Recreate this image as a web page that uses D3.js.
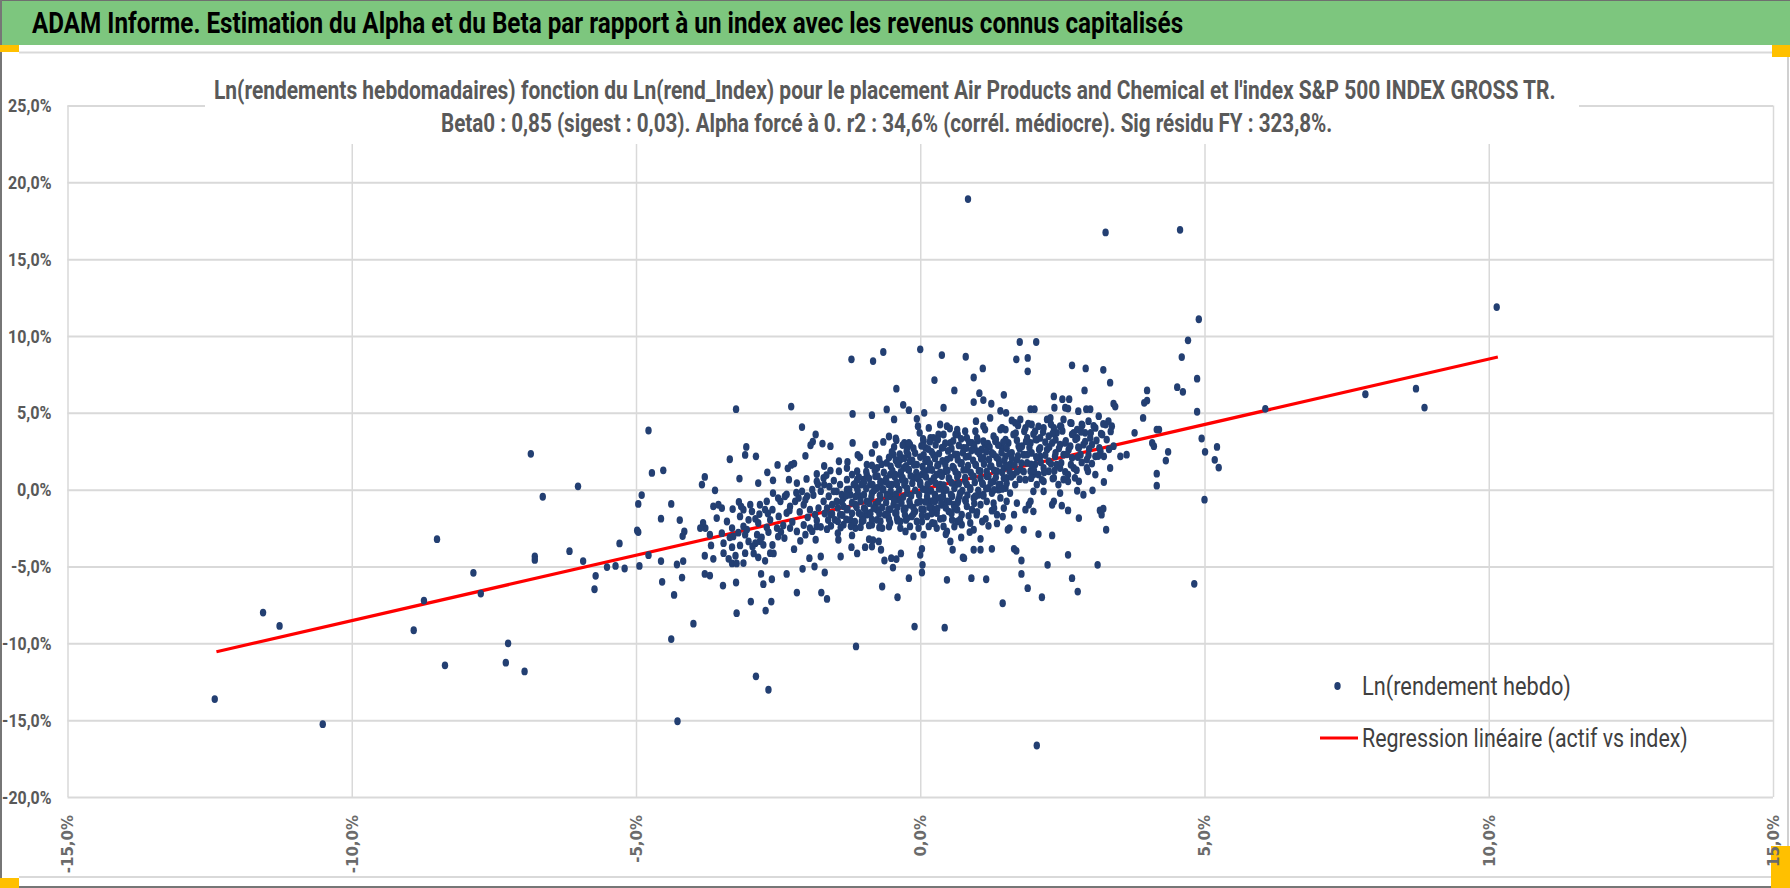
<!DOCTYPE html>
<html>
<head>
<meta charset="utf-8">
<script src="https://cdn.jsdelivr.net/npm/d3@7"></script>
<style>
  body { margin: 0; background: #fff; }
</style>
</head>
<body>
<div id="chart"></div>
<script>
// dimensions de la page
const WIDTH = 1790;
const HEIGHT = 888;
const FONT = "Roboto, 'Open Sans', sans-serif";

const headerTitle = "ADAM Informe. Estimation du Alpha et du Beta par rapport à un index avec les revenus connus capitalisés";
const chartTitle1 = "Ln(rendements hebdomadaires) fonction du Ln(rend_Index) pour le placement Air Products and Chemical et l'index S&P 500 INDEX GROSS TR.";
const chartTitle2 = "Beta0 : 0,85 (sigest : 0,03). Alpha forcé à 0. r2 : 34,6% (corrél. médiocre). Sig résidu FY : 323,8%.";
const legendLabels = ["Ln(rendement hebdo)", "Regression linéaire (actif vs index)"];

const xTicks = [-15, -10, -5, 0, 5, 10, 15];
const yTicks = [-20, -15, -10, -5, 0, 5, 10, 15, 20, 25];

// droite de régression (index, actif) en %
const regIndex = [-12.38, 10.16];
const regAsset = [-10.55, 8.63];

// points hebdo [rend_Index %, rend actif %] : points isolés
const outerPoints = [
  [-12.41,-13.63],[-11.56,-8.0],[-11.27,-8.87],[-10.51,-15.26],[-8.91,-9.15],[-8.73,-7.22],[-8.50,-3.22],
  [-8.36,-11.43],[-7.86,-5.41],[-7.73,-6.76],[-7.25,-10.0],[-7.29,-11.26],[-6.96,-11.83],[-6.85,2.33],
  [-6.78,-4.35],[-6.78,-4.57],[-6.64,-0.46],[-6.17,-4.0],[-6.02,0.22],[-5.93,-4.65],[-5.71,-5.61],
  [-5.73,-6.48],[-5.51,-5.04],[-5.36,-4.96],[-5.29,-3.5],[-5.20,-5.13],[-4.98,-2.65],[-4.96,-2.76],
  [-4.96,-0.93],[-4.90,-0.35],[-4.94,-4.96],[-4.78,3.85],[-4.78,-4.26],[-4.72,1.09],[-4.52,1.26],
  [-4.56,-1.89],[-4.56,-4.65],[-4.54,-6.0],[-4.38,-0.93],[-4.38,-9.72],[-4.33,-6.85],[-4.27,-15.07],
  [-4.23,-1.98],[-4.18,-3.02],[-4.15,-2.72],[-4.28,-4.87],[-4.17,-4.65],[-4.19,-5.72],
  [0.84,18.91],[3.26,16.74],[4.57,16.91],[4.90,11.09],[10.14,11.88],[6.07,5.26],[7.83,6.21],
  [8.72,6.57],[8.87,5.34],[5.22,2.78],[5.18,1.94],[5.25,1.44],[-2.89,-12.15],[-2.67,-13.02],[2.05,-16.65]
];

// points du nuage central
const clusterPoints = [
  [-1.21,8.48],[-0.83,8.37],[-0.65,8.96],[0.0,9.13],[0.38,8.76],[0.80,8.65],[1.75,9.61],[2.04,9.61],
  [1.69,8.48],[1.89,8.57],[1.89,7.70],[1.10,7.89],[0.94,7.30],[0.25,7.13],[-0.42,6.57],[0.60,6.46],
  [2.67,8.09],[2.91,7.89],[3.22,7.80],[3.34,6.96],[2.89,6.46],[4.71,9.72],[4.60,8.63],[4.87,7.22],
  [4.52,6.67],[4.62,6.37],[3.99,6.46],[3.99,5.80],[3.94,5.65],[1.04,6.28],[1.11,5.83],[0.94,5.70],
  [1.25,5.59],[1.47,6.17],[-0.30,5.52],[-0.20,5.17],[-0.59,5.22],[-3.24,5.24],[-2.27,5.41],[2.35,6.07],
  [2.50,5.89],[2.62,5.89],[2.36,5.33],[2.55,5.33],[2.60,5.28],[2.78,5.11],[2.92,5.24],[2.99,5.24],
  [3.40,5.59],[3.43,5.41],[1.94,5.24],[2.01,5.24],[1.41,5.13],[1.51,5.0],[0.41,5.33],[0.07,5.0],
  [-1.19,4.93],[-0.85,4.85],[-0.46,4.57],[-2.08,4.07],[-1.84,3.59],[-1.89,3.13],[-1.93,2.89],[-1.72,3.0],
  [-1.58,2.83],[-1.19,3.04],[-3.06,2.78],[-3.08,2.26],[-2.89,2.17],[-3.35,1.98],[-2.02,2.20],[-2.51,1.61],
  [-2.69,1.13],[-2.33,1.39],[-2.27,1.61],[-2.22,1.70],[-1.82,1.02],[-1.69,1.54],[-1.58,1.24],[-1.43,1.85],
  [-1.28,1.80],[-1.10,2.26],[-1.06,2.11],[-0.85,2.39],[-0.79,2.93],[-0.65,3.11],[-0.55,3.46],[-0.43,3.33],
  [-0.28,3.04],[-0.18,2.93],[-0.06,4.61],[-0.04,4.13],[-0.01,3.70],[-3.18,0.72],[-2.85,0.43],[-2.59,0.61],
  [-2.31,0.65],[-2.17,0.43],[-3.79,0.83],[-3.84,0.33],[-3.61,-0.04],[-2.59,-0.22],[-1.90,0.0],[-1.69,0.33],
  [-1.52,0.59],[-1.41,0.33],[-1.29,0.65],[-1.11,1.20],[-0.94,1.63],[-0.76,1.41],[-0.59,1.74],[-0.47,2.28],
  [-0.35,1.96],[-0.21,2.28],[-0.29,1.41],[-1.00,0.65],[-0.79,0.87],[-0.62,0.54],[-0.44,0.98],[-1.29,1.41],
  [-1.43,1.20],
  [0.06,3.15],[0.18,3.37],[0.32,3.59],[0.47,4.13],[0.52,3.98],[0.66,3.59],[0.82,3.37],[0.98,4.46],
  [1.11,4.13],[1.14,3.91],[1.29,3.48],[1.44,4.02],[1.50,3.91],[1.61,4.50],[1.67,4.35],[1.76,4.57],
  [1.85,4.02],[1.96,4.24],[2.02,3.80],[1.79,2.83],[1.94,3.04],[2.11,3.37],[2.17,4.02],[2.23,4.57],
  [2.29,4.67],[2.35,4.02],[2.46,4.13],[2.52,4.57],[2.64,4.35],[2.76,3.91],[2.84,4.24],[2.96,4.46],
  [3.08,4.02],[3.14,4.78],[3.26,4.24],[3.31,4.46],[3.37,4.13],[3.20,3.59],[2.99,3.37],[2.87,2.93],
  [2.79,2.72],[2.64,2.83],[2.46,2.93],[2.32,3.04],[2.23,2.61],[2.11,2.17],[2.26,1.85],[2.40,1.63],
  [2.52,2.28],[2.67,2.07],[2.82,2.28],[2.93,1.96],[3.08,2.17],[3.17,2.50],[3.23,2.17],[3.40,2.83],
  [3.52,2.17],[3.63,2.28],[3.77,3.70],[4.08,3.04],[4.11,2.83],[4.16,3.91],[4.20,3.91],[4.36,2.46],
  [4.32,1.89],[4.16,1.04],[4.16,0.26],[3.92,4.67],[4.87,5.07],[4.95,3.33],[5.01,2.46],[5.00,-0.65],
  [4.82,-6.13],[3.34,1.41],[3.23,0.50],[3.08,0.98],[2.93,1.41],[2.79,0.54],[2.76,-0.07],[2.87,-0.33],
  [3.03,-0.04],[2.60,0.98],[2.60,0.54],[2.43,0.33],[2.46,-0.22],[2.35,-0.76],[2.32,-0.98],[2.49,-1.04],
  [2.60,-1.35],[2.79,-1.85],[3.16,-1.35],[3.19,-1.63],[3.22,-1.24],[3.27,-2.61],[2.17,-0.11],[2.17,0.54],
  [1.99,0.98],[2.05,0.33],[1.99,-0.11],[1.94,-0.76],[1.91,-0.98],[1.99,-1.41],[1.85,-1.30],[1.70,-0.87],
  [1.65,-1.63],[1.54,-2.61],[1.57,-2.50],[1.82,-2.61],[2.08,-2.89],[2.32,-2.98],[2.60,-4.24],[2.24,-4.89],
  [2.67,-5.76],[2.77,-6.63],[3.12,-4.89],[1.89,-6.41],[2.14,-7.0],[1.78,-5.48],[1.78,-4.61],[1.65,-3.85],
  [1.69,-3.98],[1.45,-7.39],[1.16,-5.83],[0.90,-5.76],[1.26,-3.85],[1.06,-3.91],[0.94,-3.91],[0.77,-4.46],
  [0.75,-4.41],[0.57,-3.91],[0.72,-3.11],[0.87,-2.76],[1.06,-3.20],[1.09,-2.07],[0.99,-1.63],[1.26,-1.37],
  [1.35,-1.63],[1.47,-1.20],[0.47,-5.87],[0.43,-8.98],[-0.10,-8.91],[0.03,-5.39],[0.04,-4.89],[0.0,-4.24],
  [0.03,-3.85],[-0.20,-5.76],[-0.40,-7.0],[-0.67,-6.30],[-0.48,-5.07],[-0.63,-4.61],[-0.51,-4.46],[-0.42,-4.52],
  [-0.34,-4.15],[-1.13,-10.2],[-1.40,-4.35],[-1.21,-3.74],[-1.11,-4.15],[-0.97,-3.74],[-0.85,-3.70],[-0.83,-3.28],
  [-0.69,-3.91],[-0.73,-3.37],[-0.90,-3.22],[-1.20,-2.98],[-1.44,-3.26],[-1.45,-2.83],[-1.64,-2.57],[-1.84,-3.26],
  [-1.95,-4.46],[-1.86,-5.0],[-1.75,-4.35],[-1.68,-5.39],[-1.74,-6.70],[-1.64,-7.11],[-2.07,-5.15],[-2.17,-6.70],
  [-2.35,-5.48],[-2.22,-3.87],[-2.11,-3.33],[-2.39,-3.15],[-2.61,-5.83],[-2.76,-6.15],[-2.80,-5.48],[-2.98,-7.28],
  [-2.62,-7.28],[-2.72,-7.87],[-3.23,-8.04],[-3.24,-6.04],[-3.47,-6.24],[-3.70,-5.59],[-3.79,-5.48],[-3.79,-4.30],
  [-3.64,-4.50],[-3.99,-8.72],[-3.68,-3.63],[-3.46,-4.13],[-3.37,-4.50],[-3.31,-4.80],[-3.23,-4.80],[-3.11,-4.78],
  [-3.08,-4.13],[-2.93,-4.15],[-2.90,-3.48],[-2.76,-3.59],[-2.73,-4.63],[-2.64,-4.13],[-2.58,-4.15],[-3.46,-3.48],
  [-3.31,-3.74],[-3.17,-3.63],[-3.08,-2.93],[-3.02,-3.37],[-2.87,-2.93],[-2.79,-3.11],[-2.67,-2.76],[-2.52,-2.50],
  [-2.41,-2.33],[-2.29,-2.50],[-2.17,-2.72],[-2.02,-2.93],[-1.94,-2.50],[-1.82,-2.39],[-3.78,-2.50],[-3.82,-2.17],
  [-3.87,-2.50],[-3.55,-0.98],[-3.64,-1.09],[-3.49,-1.20],[-3.30,-1.26],[-3.19,-0.80],[-3.40,-2.07],[-3.31,-2.50],
  [-3.11,-2.39],[-2.99,-0.98],[-2.96,-1.41],[-2.83,-1.59],[-2.64,-1.96],[-2.49,-1.74],[-2.35,-1.52],[-2.29,-1.09],
  [-2.20,-0.76],[-2.14,-0.54],[-2.05,-0.98],[-1.94,-1.30],[-1.85,-1.63],[-1.79,-1.20],[-1.70,-0.76],[-1.64,-1.20],
  [-1.58,-1.63],[-1.50,-1.96],[-1.41,-1.63],[-1.35,-2.28],[-1.29,-1.30],[-1.23,-1.96],[-1.14,-2.50],[-1.03,-2.07],
  [-0.94,-1.63],[-0.85,-2.28],[-0.76,-1.96],[-0.67,-2.50],[-0.62,-1.63],[-0.53,-2.17],[-0.41,-1.85],[-0.35,-2.50],
  [-0.26,-2.72],[-0.18,-2.39],[-0.12,-3.04],[-0.03,-2.50],[0.06,-2.93],[0.15,-2.39],[0.21,-2.17],[0.29,-2.50],
  [0.41,-2.39],[0.47,-2.72],[0.53,-3.37],[0.65,-2.07],[0.73,-2.28],[0.88,-2.17],[0.94,-2.61],
  [-1.47,-0.11],[-1.35,-0.54],[-1.23,-0.33],[-1.11,0.11],[-1.06,-0.43],[-0.94,-0.76],[-0.85,-0.22],[-0.79,-0.98],
  [-0.70,-0.54],[-0.65,0.0],[-0.53,-0.43],[-0.47,-0.98],[-0.38,-0.65],[-0.29,-1.30],[-0.23,-0.22],[-0.18,-0.98],
  [-0.09,-1.41],[0.0,-0.76],[0.06,-1.30],[0.12,-1.74],[0.21,-1.20],[0.29,-1.52],[0.38,-0.98],[0.41,-1.85],
  [0.50,-1.41],[0.56,-1.96],[0.65,-1.30],[0.73,-1.63],[0.82,-1.09],[0.91,-1.30],[1.06,-0.98],[1.17,-0.76],
  [1.29,-0.87],[1.41,-0.54],[1.52,-0.76],[1.58,-0.22],[1.50,0.11],
  [-0.41,0.33],[-0.35,0.98],[-0.26,0.54],[-0.21,1.30],[-0.12,0.76],[-0.06,1.63],[0.0,0.33],[0.03,0.98],
  [0.09,1.85],[0.12,-0.11],[0.15,1.30],[0.18,0.54],[0.23,2.28],[0.26,-0.33],[0.29,0.98],[0.32,1.63],
  [0.35,0.33],[0.38,2.72],[0.41,-0.11],[0.44,1.20],[0.47,1.96],[0.50,0.76],[0.53,3.04],[0.56,-0.43],
  [0.59,1.41],[0.62,0.33],[0.65,2.28],[0.67,0.98],[0.70,-0.22],[0.73,1.74],[0.76,2.72],[0.79,0.54],
  [0.82,1.30],[0.85,2.17],[0.88,0.11],[0.91,3.04],[0.94,0.87],[0.97,1.63],[1.00,2.50],[1.03,-0.33],
  [1.06,1.20],[1.09,0.43],[1.11,2.07],[1.14,2.93],[1.17,0.87],[1.20,0.11],[1.23,1.52],[1.26,2.39],
  [1.29,0.54],[1.32,3.15],[1.35,1.20],[1.38,1.96],[1.41,0.33],[1.44,2.72],[1.47,1.41],[1.50,2.17],
  [1.52,0.76],[1.55,3.04],[1.58,1.63],[1.61,2.39],[1.64,0.98],[1.67,0.33],[1.70,1.96],[1.73,2.83],
  [1.76,1.30],[1.82,2.28],[1.85,0.65],[1.88,1.74],[1.94,1.20],[1.96,2.39],[2.02,1.63],[2.08,0.98],
  [2.11,2.72],[2.17,1.41],[2.05,2.07],[2.26,1.20],[2.35,0.76],[2.38,2.39],[2.46,1.41],[2.55,3.04],
  [2.70,1.41],[2.76,3.37],[2.90,3.70],[3.02,2.93],[2.70,3.70],[2.40,3.70],[2.26,3.48],[2.05,3.26],
  [1.88,3.37],[1.64,3.59],[1.50,3.26],[1.00,3.37],[1.11,3.15],[0.79,3.80],[0.62,3.59],[0.41,3.59],
  [0.23,3.37],[0.09,2.72],[0.15,4.02],[0.35,4.24],[0.65,3.91],[0.97,3.80],[1.23,4.67],[1.41,3.91],
  [-0.23,2.72],[-0.18,1.85],[-0.38,1.63],[-0.32,0.65],[-0.53,0.98],[-0.50,0.33],[-0.59,-0.33],[-0.70,0.54],
  [-0.76,0.11],[-0.88,0.33],[-0.94,0.98],[-1.03,0.33],[-1.11,0.65],[-1.20,0.98],[-1.17,0.33],[-1.29,0.0],
  [-1.38,-0.33],[-1.52,-0.11],[-1.61,-0.43],[-1.55,-0.98],[-1.47,-0.76],[-1.35,-1.09],[-1.14,-0.98],[-1.08,-1.52],
  [-0.99,-1.20],[-0.88,-1.52],[-0.76,-1.30],[-0.56,-1.30],[-0.44,-1.52],[-0.35,-2.07],[-0.23,-1.85],[-0.15,-1.74],
  [-0.06,-2.07],[0.03,-2.07],[0.18,-0.76],[0.26,-0.76],[0.35,-0.54],[0.47,-0.76],[0.59,-0.98],[0.67,-0.65],
  [0.79,-0.65],[0.94,-0.54],[1.11,-0.33],[1.26,-0.22],[1.38,0.0],[-1.70,0.76],[-1.82,0.54],[-1.99,-0.43],
  [-2.08,-0.11],[-2.46,-0.76],[-2.38,-0.43],[-2.70,-0.76],[-2.82,-0.98],[-3.11,-1.30],[-2.73,-1.30],[-3.17,-1.74],
  [-3.02,-1.96],[-2.85,-2.17],[-3.58,-1.85],[-3.70,-2.93],[-3.49,-2.83],[-3.29,-3.04]
];

// cœur très dense du nuage
const corePoints = [
  [-0.42,3.22],[-0.2,3.05],[0.05,3.3],[0.17,3.12],[0.31,3.26],[0.44,3.02],[0.58,3.18],[0.72,3.31],[0.86,3.08],[1.01,3.2],[1.19,3.0],[1.33,3.27],[1.46,3.1],
  [-0.46,2.78],[-0.31,2.9],[-0.12,2.7],[0.02,2.85],[0.14,2.64],[0.27,2.92],[0.4,2.75],[0.55,2.68],[0.68,2.88],[0.81,2.71],[0.95,2.83],[1.08,2.62],[1.22,2.79],[1.37,2.9],[1.52,2.7],
  [-0.5,2.45],[-0.36,2.31],[-0.24,2.5],[-0.09,2.38],[0.06,2.27],[0.2,2.46],[0.33,2.35],[0.49,2.52],[0.61,2.29],[0.75,2.41],[0.9,2.55],[1.04,2.33],[1.16,2.47],[1.29,2.3],[1.43,2.42],[1.57,2.36],
  [-0.72,1.98],[-0.55,2.1],[-0.43,1.92],[-0.28,2.05],[-0.14,1.9],[0.0,2.12],[0.13,1.96],[0.26,2.03],[0.39,1.88],[0.53,2.08],[0.66,1.95],[0.8,2.14],[0.93,1.91],[1.07,2.02],[1.21,1.97],[1.34,2.11],[1.48,1.89],[1.61,2.04],
  [-0.85,1.58],[-0.68,1.66],[-0.52,1.52],[-0.4,1.7],[-0.25,1.55],[-0.11,1.62],[0.04,1.5],[0.17,1.68],[0.3,1.57],[0.44,1.64],[0.57,1.49],[0.71,1.71],[0.84,1.56],[0.98,1.6],[1.12,1.67],[1.25,1.53],[1.39,1.69],[1.53,1.55],[1.66,1.61],
  [-0.95,1.18],[-0.8,1.27],[-0.64,1.12],[-0.49,1.24],[-0.34,1.15],[-0.2,1.3],[-0.07,1.1],[0.07,1.22],[0.21,1.28],[0.35,1.13],[0.48,1.25],[0.62,1.17],[0.76,1.29],[0.89,1.11],[1.03,1.23],[1.17,1.19],[1.3,1.26],[1.44,1.14],[1.57,1.21],[1.7,1.16],
  [-1.08,0.82],[-0.9,0.74],[-0.75,0.88],[-0.6,0.71],[-0.45,0.85],[-0.31,0.78],[-0.17,0.9],[-0.04,0.72],[0.1,0.84],[0.24,0.77],[0.38,0.89],[0.51,0.7],[0.65,0.83],[0.79,0.79],[0.92,0.86],[1.06,0.73],[1.2,0.87],[1.33,0.8],[1.47,0.75],[1.6,0.84],
  [-1.15,0.38],[-0.99,0.46],[-0.84,0.33],[-0.7,0.44],[-0.56,0.36],[-0.42,0.49],[-0.28,0.31],[-0.14,0.42],[0.0,0.47],[0.13,0.35],[0.27,0.43],[0.41,0.3],[0.55,0.45],[0.68,0.39],[0.82,0.34],[0.96,0.48],[1.1,0.37],[1.24,0.44],[1.38,0.32],[1.52,0.41],
  [-1.25,0.02],[-1.1,-0.06],[-0.95,0.07],[-0.81,-0.03],[-0.66,0.05],[-0.52,-0.09],[-0.37,0.0],[-0.23,0.08],[-0.09,-0.05],[0.05,0.04],[0.19,-0.08],[0.33,0.06],[0.46,-0.02],[0.6,0.09],[0.74,-0.07],[0.88,0.03],[1.02,-0.04],[1.16,0.07],[1.3,-0.01],[1.44,0.05],
  [-1.3,-0.38],[-1.14,-0.45],[-0.99,-0.33],[-0.86,-0.47],[-0.71,-0.36],[-0.57,-0.42],[-0.43,-0.31],[-0.3,-0.48],[-0.16,-0.39],[-0.02,-0.34],[0.12,-0.44],[0.26,-0.37],[0.4,-0.46],[0.54,-0.32],[0.69,-0.41],[0.83,-0.35],[0.97,-0.43],[1.11,-0.4],
  [-1.38,-0.78],[-1.2,-0.85],[-1.05,-0.74],[-0.9,-0.88],[-0.74,-0.79],[-0.6,-0.83],[-0.46,-0.72],[-0.33,-0.87],[-0.19,-0.76],[-0.05,-0.84],[0.09,-0.8],[0.23,-0.73],[0.37,-0.86],[0.51,-0.77],[0.66,-0.82],[0.8,-0.75],[0.95,-0.89],
  [-1.45,-1.18],[-1.28,-1.25],[-1.12,-1.14],[-0.97,-1.28],[-0.82,-1.2],[-0.67,-1.16],[-0.53,-1.27],[-0.4,-1.13],[-0.26,-1.22],[-0.12,-1.17],[0.02,-1.26],[0.16,-1.15],[0.3,-1.23],[0.45,-1.19],[0.6,-1.24],
  [-1.55,-1.58],[-1.37,-1.65],[-1.2,-1.54],[-1.03,-1.68],[-0.88,-1.6],[-0.72,-1.56],[-0.57,-1.66],[-0.42,-1.52],[-0.27,-1.63],[-0.12,-1.57],[0.03,-1.67],[0.2,-1.55],
  [1.72,4.18],[1.9,4.3],[2.08,4.12],[2.3,4.25],[2.48,4.1],[2.66,4.33],[2.85,4.2],[3.05,4.15],[3.22,4.28],
  [1.68,3.68],[1.83,3.8],[1.99,3.62],[2.16,3.75],[2.33,3.66],[2.5,3.82],[2.67,3.6],[2.83,3.77],[3.0,3.7],[3.18,3.64],[3.35,3.79],
  [1.7,3.22],[1.86,3.14],[2.03,3.27],[2.2,3.1],[2.38,3.25],[2.56,3.18],[2.73,3.28],[2.9,3.12],[3.1,3.2],[3.28,3.26],
  [1.75,2.66],[1.92,2.74],[2.09,2.62],[2.27,2.78],[2.44,2.69],[2.61,2.6],[2.78,2.76],[2.97,2.65],[3.15,2.72],[3.32,2.63],
  [1.72,2.2],[1.88,2.28],[2.04,2.14],[2.2,2.25],[2.37,2.17],[2.58,2.3],[2.77,2.12],[2.96,2.24],[3.13,2.19],
  [1.78,1.73],[1.95,1.65],[2.12,1.78],[2.3,1.68],[2.48,1.75],[2.65,1.62],[2.84,1.77],[3.02,1.7],
  [1.82,1.18],[2.0,1.26],[2.18,1.13],[2.36,1.23],[2.55,1.16],[2.75,1.27],[2.95,1.2],
  [1.75,0.68],[1.95,0.75],[2.14,0.64],[2.33,0.72],[2.52,0.66],[2.72,0.77],
  [-1.62,-1.98],[-1.45,-2.06],[-1.3,-1.94],[-1.15,-2.08],[-1.0,-2.0],[-0.85,-1.95],[-0.7,-2.05],[-0.55,-1.92],[-0.4,-2.02],[-0.25,-1.97],
  [-1.75,-2.42],[-1.57,-2.35],[-1.4,-2.47],[-1.22,-2.38],[-1.05,-2.44],[-0.9,-2.33],[-0.72,-2.46],[-0.55,-2.4],
  [-2.35,-0.3],[-2.18,-0.2],[-2.02,-0.65],[-1.88,-0.35],[-1.75,-0.1],[-1.6,0.2],[-2.3,-1.35],[-2.12,-1.45],[-1.98,-1.8],[-1.82,-2.0],
  [-1.68,-1.55],[-2.25,-2.1],[-2.05,-2.3],[-1.9,-2.7],[-2.45,-2.75],[-2.6,-1.3],[-2.5,-0.55],[-1.8,0.35],[-1.65,0.95],[-2.0,0.7],
  [-3.35,-3.1],[-3.2,-2.8],[-3.05,-2.6],[-2.95,-3.7],[-2.82,-3.35],[-2.7,-2.45],[-2.6,-3.6],[-2.5,-3.05],[-3.25,-4.3],[-2.85,-4.4],
  [-2.68,-1.55],[-2.9,-1.9],[-3.15,-1.1],
  [0.35,-1.9],[0.55,-1.55],[0.7,-1.95],[0.85,-1.7],[1.0,-1.45],[1.15,-1.9],[1.3,-1.2],[1.45,-1.75],[0.25,-2.2],[0.6,-2.4],
  [1.2,-2.35],[0.45,-2.9],[1.35,-2.2]
];

const weeklyPoints = outerPoints.concat(clusterPoints, corePoints);

const svg = d3.select("#chart").append("svg")
  .attr("width", WIDTH)
  .attr("height", HEIGHT)
  .style("display", "block");

// écrit un texte et le comprime horizontalement à la largeur voulue (police étroite façon Calibri)
function fitText(parent, str, px, py, width, size, weight, color) {
  const t = parent.append("text")
    .attr("x", 0).attr("y", 0)
    .style("font-family", FONT).style("font-size", size + "px").style("font-weight", weight)
    .attr("fill", color)
    .text(str);
  const k = width / t.node().getComputedTextLength();
  t.attr("transform", `translate(${px},${py}) scale(${k},1)`);
  return t;
}

// bandeau vert
svg.append("rect").attr("x", 0).attr("y", 0).attr("width", WIDTH).attr("height", 45).attr("fill", "#7dc67e");
svg.append("line").attr("x1", 0).attr("x2", WIDTH).attr("y1", 0.5).attr("y2", 0.5).attr("stroke", "#6f6f6f");
fitText(svg, headerTitle, 32, 33, 1152, 29, "bold", "#000");

// cadre du graphique
svg.append("line").attr("x1", 19).attr("x2", 1772).attr("y1", 52.5).attr("y2", 52.5).attr("stroke", "#d9d9d9").attr("stroke-width", 2);
svg.append("line").attr("x1", 1788).attr("x2", 1788).attr("y1", 52).attr("y2", 877).attr("stroke", "#d0d0d0").attr("stroke-width", 2);
svg.append("line").attr("x1", 19).attr("x2", 1772).attr("y1", 877).attr("y2", 877).attr("stroke", "#d9d9d9").attr("stroke-width", 2);
svg.append("line").attr("x1", 0).attr("x2", WIDTH).attr("y1", 887).attr("y2", 887).attr("stroke", "#767676").attr("stroke-width", 2);
svg.append("line").attr("x1", 1).attr("x2", 1).attr("y1", 0).attr("y2", HEIGHT).attr("stroke", "#767676").attr("stroke-width", 2);

// poignées de sélection
const handles = [[0, 45, 19, 7], [1772, 45, 18, 12], [0, 878, 19, 10], [1771, 846, 19, 42]];
svg.selectAll("rect.handle").data(handles).enter().append("rect")
  .attr("class", "handle")
  .attr("x", d => d[0]).attr("y", d => d[1]).attr("width", d => d[2]).attr("height", d => d[3])
  .attr("fill", "#ffc000");

const x = d3.scaleLinear().domain([-15, 15]).range([67.5, 1773]);
const y = d3.scaleLinear().domain([-20, 25]).range([797, 105.5]);
const fmt = v => v.toFixed(1).replace(".", ",") + "%";
// largeur des étiquettes Y
const labelWidth = v => {
  const s = fmt(Math.abs(v));
  return (s.length - 2) * 8.8 + 17 + (v < 0 ? 6 : 0);
};

// axe Y + grille horizontale
const yAxis = svg.append("g")
  .attr("transform", `translate(${x(-15)},0)`)
  .call(d3.axisLeft(y).tickValues(yTicks).tickSize(-(x(15) - x(-15))).tickPadding(16).tickFormat(fmt));
yAxis.select(".domain").remove();
yAxis.selectAll("line").attr("stroke", "#d9d9d9").attr("stroke-width", 2);
yAxis.selectAll("text")
  .attr("textLength", d => labelWidth(d)).attr("lengthAdjust", "spacingAndGlyphs")
  .style("font-family", FONT).style("font-size", "19px").style("font-weight", "bold")
  .attr("fill", "#595959");

// axe X + grille verticale
const xAxis = svg.append("g")
  .attr("transform", `translate(0,${y(-20)})`)
  .call(d3.axisBottom(x).tickValues(xTicks).tickSize(-(y(-20) - y(25))).tickFormat(fmt));
xAxis.select(".domain").remove();
xAxis.selectAll("line").attr("stroke", "#d9d9d9").attr("stroke-width", 1.5);
xAxis.selectAll("text")
  .attr("transform", "rotate(-90)")
  .attr("x", -18).attr("y", 0).attr("dy", "0.36em")
  .style("text-anchor", "end")
  .style("font-family", "'DejaVu Sans', sans-serif").style("font-size", "15px").style("font-weight", "bold")
  .attr("fill", "#6b6b6b");

// titre du graphique (fond blanc)
svg.append("rect").attr("x", 205).attr("y", 58).attr("width", 1374).attr("height", 86).attr("fill", "#fff");
fitText(svg, chartTitle1, 214, 99, 1342, 25, "bold", "#595959");
fitText(svg, chartTitle2, 441, 132, 892, 25, "bold", "#595959");

// droite de régression
const regLine = d3.line().x(d => x(d[0])).y(d => y(d[1]));
svg.append("path")
  .datum(regIndex.map((v, i) => [v, regAsset[i]]))
  .attr("d", regLine)
  .attr("fill", "none").attr("stroke", "#ff0000").attr("stroke-width", 3.2);

// nuage de points
svg.append("g").selectAll("ellipse")
  .data(weeklyPoints)
  .enter().append("ellipse")
  .attr("cx", d => x(d[0]))
  .attr("cy", d => y(d[1]))
  .attr("rx", 3.2).attr("ry", 3.9)
  .attr("fill", "#233f72");

// légende
const legend = svg.append("g");
legend.append("ellipse").attr("cx", 1337.5).attr("cy", 686).attr("rx", 3.2).attr("ry", 3.9).attr("fill", "#233f72");
legend.append("line").attr("x1", 1320).attr("x2", 1358).attr("y1", 738).attr("y2", 738).attr("stroke", "#ff0000").attr("stroke-width", 3.2);
fitText(legend, legendLabels[0], 1362, 695, 209, 26, "normal", "#404040");
fitText(legend, legendLabels[1], 1362, 747, 326, 26, "normal", "#404040");
</script>
</body>
</html>
